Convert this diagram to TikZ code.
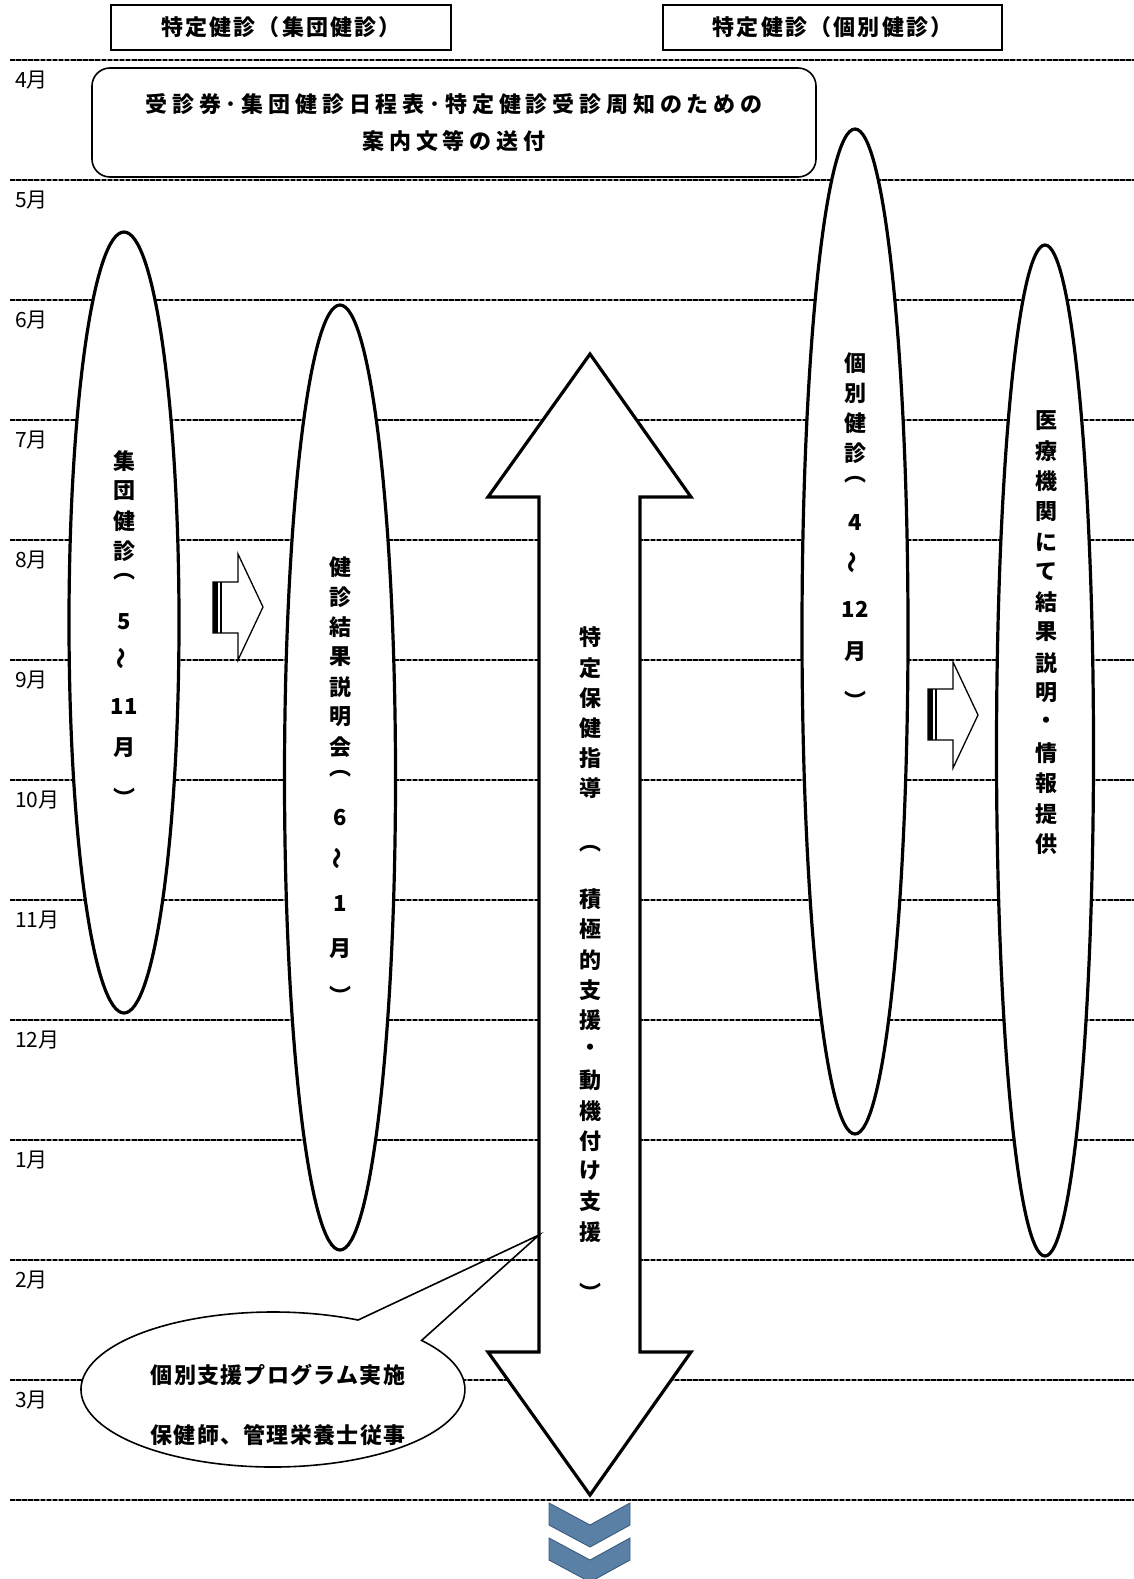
\documentclass[tikz,border=0pt]{standalone}
\usepackage{fontspec}
\usepackage{graphicx}
\usetikzlibrary{shapes.geometric,calc}
\newfontfamily\jpreg{Noto Sans CJK JP}
\newfontfamily\jpsp[LetterSpace=10]{Noto Sans CJK JP}
\newfontfamily\jpnarrow[LetterSpace=6]{Noto Sans CJK JP}
\newfontfamily\jpwide[LetterSpace=22]{Noto Sans CJK JP}
\newfontfamily\jpv{Noto Sans CJK JP}
\newcommand\vwave{\rotatebox[origin=c]{90}{〜}}
\definecolor{chevfill}{HTML}{5B80A5}
\definecolor{chevedge}{HTML}{3B5B7D}

\begin{document}
\begin{tikzpicture}[x=1pt,y=-1pt,
  monthline/.style={line width=2.6pt, dash pattern=on 4.5pt off 1.6pt, black},
  monthgap/.style={line width=2.6pt, black!45},
  monthlabel/.style={anchor=base west, inner sep=0pt, font=\jpreg\fontsize{21}{21}\selectfont},
  headbox/.style={draw, line width=1.6pt, minimum height=45pt, inner sep=0pt,
    font=\jpsp\bfseries\fontsize{22}{22}\selectfont},
  noticebox/.style={draw, fill=white, line width=1.6pt, rounded corners=18pt,
    minimum width=724pt, minimum height=109pt, inner sep=0pt, align=center,
    font=\jpwide\bfseries\fontsize{22}{37}\selectfont},
  ovalbox/.style={ellipse, draw, fill=white, line width=3.2pt, inner sep=0pt},
  vch/.style={inner sep=0pt, font=\jpv\bfseries\fontsize{22}{22}\selectfont},
  bigarrow/.style={draw, fill=white, line width=3.2pt, line join=miter},
  stripearrow/.style={draw, fill=white, line width=1.3pt, line join=miter},
  stripebar/.style={fill=black},
  stripeline/.style={line width=2.2pt},
  callout/.style={draw, line width=1.6pt},
  callouttext/.style={inner sep=0pt, font=\jpnarrow\bfseries\fontsize{22}{22}\selectfont},
  chevron/.style={fill=chevfill, draw=chevedge, line width=0.9pt, line join=miter}
]
\useasboundingbox (0,0) rectangle (1134,1579);
\fill[white] (0,0) rectangle (1134,1579);

% month separators
\foreach \k in {0,...,12} {
  \draw[monthgap] (10,60+120*\k) -- (1134,60+120*\k);
  \draw[monthline] (10,60+120*\k) -- (1134,60+120*\k);
}
% month labels
\foreach \m [count=\i from 0] in {4,5,6,7,8,9,10,11,12,1,2,3}
  \node[monthlabel] (mon\i) at (15,87+120*\i) {\m 月};

% column headers
\node[headbox, minimum width=340pt] (hgroup) at (281,27.5) {特定健診（集団健診）};
\node[headbox, minimum width=339pt] (hindiv) at (832.5,27.5) {特定健診（個別健診）};

% mailing notice
\node[noticebox] (notice) at (454,122.5)
  {受診券･集団健診日程表･特定健診受診周知のための\\案内文等の送付};

% period ellipses
\node[ovalbox, minimum width=110pt, minimum height=781pt] (egroup) at (124,622.5) {};
\node[ovalbox, minimum width=111pt, minimum height=945pt] (eresult) at (340,777.5) {};
\node[ovalbox, minimum width=106pt, minimum height=1005pt] (eindiv) at (855,631.5) {};
\node[ovalbox, minimum width=97pt, minimum height=1011pt] (eclinic) at (1045,750.5) {};

% guidance double arrow
\draw[bigarrow] (590,354) -- (691,497) -- (640,497) -- (640,1352) -- (691,1352)
  -- (590,1495) -- (488,1352) -- (539,1352) -- (539,497) -- (488,497) -- cycle;

% striped arrows
\draw[stripearrow] (213,582) -- (238,582) -- (238,554) -- (263,607) -- (238,660)
  -- (238,633) -- (213,633) -- cycle;
\fill[stripebar] (213,582) rectangle (218.3,633);
\draw[stripeline] (221,582) -- (221,633);

\draw[stripearrow] (928,689) -- (953,689) -- (953,662) -- (978,715) -- (953,768)
  -- (953,740) -- (928,740) -- cycle;
\fill[stripebar] (928,689) rectangle (933.3,740);
\draw[stripeline] (936,689) -- (936,740);

% speech bubble
\coordinate (cc) at (273,1389.5);
\coordinate (ctip) at (539,1235);
\fill[white] (cc) ellipse [x radius=192, y radius=77.5];
\draw[callout] ($(cc)+(-39.3:192 and 77.5)$) -- (ctip) -- ($(cc)+(-63.7:192 and 77.5)$)
  arc[start angle=-63.7, end angle=-399.3, x radius=192, y radius=77.5] -- cycle;
\node[callouttext] (ct1) at (278,1375) {個別支援プログラム実施};
\node[callouttext] (ct2) at (278,1435) {保健師、管理栄養士従事};

% continuation chevrons
\draw[chevron] (549,1503) -- (590,1525) -- (630,1503) -- (630,1525) -- (590,1547)
  -- (549,1525) -- cycle;
\draw[chevron] (549,1538) -- (590,1560) -- (630,1538) -- (630,1560) -- (590,1582)
  -- (549,1560) -- cycle;

% vertical texts
\foreach \g/\y [count=\i] in {集/461, 団/491, 健/521, 診/551, ︵/577, 5/622,
    \vwave/658, 11/707, 月/748, ︶/797}
  \node[vch] (tg\i) at (124,\y) {\g};
\foreach \g/\y [count=\i] in {健/567, 診/597, 結/627, 果/657, 説/687, 明/717, 会/747,
    ︵/774, 6/818, \vwave/858, 1/904, 月/949, ︶/995}
  \node[vch] (tr\i) at (340,\y) {\g};
\foreach \g/\y [count=\i] in {特/637, 定/668, 保/698, 健/728, 指/758, 導/788, ︵/849,
    積/899, 極/929, 的/960, 支/990, 援/1020, ・/1050, 動/1080, 機/1111, 付/1141,
    け/1171, 支/1201, 援/1232, ︶/1292}
  \node[vch] (ta\i) at (590,\y) {\g};
\foreach \g/\y [count=\i] in {個/363, 別/393, 健/423, 診/453, ︵/480, 4/523,
    \vwave/562, 12/609, 月/652, ︶/700}
  \node[vch] (ti\i) at (855,\y) {\g};
\foreach \g/\y [count=\i] in {医/421, 療/451, 機/481, 関/512, に/542, て/572, 結/602,
    果/632, 説/663, 明/693, ・/723, 情/753, 報/783, 提/814, 供/844}
  \node[vch] (tc\i) at (1046,\y) {\g};
\end{tikzpicture}
\end{document}
